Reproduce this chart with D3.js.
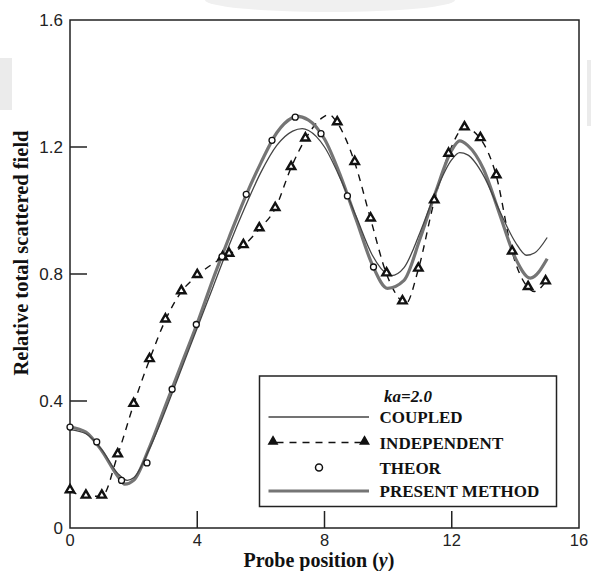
<!DOCTYPE html>
<html>
<head>
<meta charset="utf-8">
<script src="https://cdn.jsdelivr.net/npm/d3@7"></script>
<style>
  body { margin: 0; background: #fff; }
  svg { display: block; }
</style>
</head>
<body>
<div id="chart"></div>
<script>
// Data (ka = 2.0)
const coupledX = [0, 0.5, 1.0, 1.5, 1.8, 2.0, 2.5, 3.0, 3.5, 4.0, 4.5, 5.0, 5.5, 6.0, 6.5, 7.0, 7.3, 7.5, 8.0, 8.5, 9.0, 9.5, 10.0, 10.1, 10.5, 11.0, 11.5, 12.0, 12.25, 12.5, 13.0, 13.5, 14.0, 14.35, 14.6, 15.0];
const coupledY = [0.31, 0.297, 0.247, 0.172, 0.15, 0.158, 0.25, 0.37, 0.50, 0.63, 0.76, 0.89, 1.01, 1.12, 1.205, 1.25, 1.258, 1.252, 1.2, 1.1, 0.98, 0.86, 0.798, 0.795, 0.82, 0.93, 1.06, 1.16, 1.182, 1.175, 1.11, 1.0, 0.9, 0.859, 0.866, 0.915];

const presentX = [0, 0.5, 1.0, 1.5, 1.72, 2.0, 2.5, 3.0, 3.5, 4.0, 4.5, 5.0, 5.5, 6.0, 6.5, 7.0, 7.1, 7.5, 8.0, 8.5, 9.0, 9.5, 9.98, 10.5, 11.0, 11.5, 12.0, 12.25, 12.5, 13.0, 13.5, 14.0, 14.47, 15.0];
const presentY = [0.318, 0.302, 0.243, 0.163, 0.138, 0.15, 0.255, 0.385, 0.515, 0.645, 0.785, 0.915, 1.04, 1.15, 1.245, 1.293, 1.297, 1.285, 1.225, 1.11, 0.97, 0.83, 0.755, 0.78, 0.91, 1.06, 1.19, 1.219, 1.205, 1.13, 0.99, 0.85, 0.787, 0.848];

const independentX = [0, 0.5, 1.0, 1.5, 2.0, 2.5, 3.0, 3.5, 4.0, 4.8, 5.0, 5.45, 5.95, 6.45, 6.95, 7.4, 7.9, 8.15, 8.4, 8.95, 9.45, 9.95, 10.45, 10.55, 10.95, 11.45, 11.9, 12.4, 12.9, 13.4, 13.9, 14.4, 14.6, 14.95];
const independentY = [0.117, 0.10, 0.10, 0.23, 0.389, 0.53, 0.655, 0.744, 0.795, 0.851, 0.862, 0.889, 0.942, 1.006, 1.135, 1.225, 1.29, 1.302, 1.276, 1.151, 0.973, 0.80, 0.712, 0.706, 0.815, 1.03, 1.177, 1.26, 1.226, 1.109, 0.869, 0.757, 0.745, 0.775];
// triangles are only at the computed points, not at the peak/trough helpers
const independentMarkX = [0, 0.5, 1.0, 1.5, 2.0, 2.5, 3.0, 3.5, 4.0, 4.8, 5.0, 5.45, 5.95, 6.45, 6.95, 7.4, 8.4, 8.95, 9.45, 9.95, 10.45, 10.95, 11.45, 11.9, 12.4, 12.9, 13.4, 13.9, 14.4, 14.95];
const independentMarkY = [0.117, 0.10, 0.10, 0.23, 0.389, 0.53, 0.655, 0.744, 0.795, 0.851, 0.862, 0.889, 0.942, 1.006, 1.135, 1.225, 1.276, 1.151, 0.973, 0.80, 0.712, 0.815, 1.03, 1.177, 1.26, 1.226, 1.109, 0.869, 0.757, 0.775];

const theorX = [0, 0.84, 1.62, 2.42, 3.21, 3.97, 4.78, 5.54, 6.35, 7.08, 7.89, 8.72, 9.54];
const theorY = [0.318, 0.271, 0.15, 0.205, 0.437, 0.641, 0.855, 1.051, 1.221, 1.294, 1.242, 1.046, 0.822];

const xTicks = [0, 4, 8, 12, 16];
const yTicks = [0, 0.4, 0.8, 1.2, 1.6];
const legendLabels = ['COUPLED', 'INDEPENDENT', 'THEOR', 'PRESENT METHOD'];

const width = 591, height = 571;
const margin = { top: 20, right: 12, bottom: 43, left: 70 };

const svg = d3.select('#chart').append('svg')
    .attr('width', width)
    .attr('height', height);

// faint watermark smudges from the scan
svg.append('ellipse').attr('cx', 330).attr('cy', 0).attr('rx', 125).attr('ry', 12).attr('fill', '#f0f0f0');
svg.append('rect').attr('x', 0).attr('y', 58).attr('width', 12).attr('height', 52).attr('fill', '#ebebeb');
svg.append('rect').attr('x', 587).attr('y', 60).attr('width', 4).attr('height', 66).attr('fill', '#ebebeb');

const x = d3.scaleLinear().domain([0, 16]).range([margin.left, width - margin.right]);
const y = d3.scaleLinear().domain([0, 1.6]).range([height - margin.bottom, margin.top]);

const serif = '"Liberation Serif", "Times New Roman", serif';
const sans = '"Liberation Sans", Arial, sans-serif';

// frame
svg.append('rect')
    .attr('x', x(0)).attr('y', y(1.6))
    .attr('width', x(16) - x(0)).attr('height', y(0) - y(1.6))
    .attr('fill', 'none').attr('stroke', '#222').attr('stroke-width', 1.5);

// inward ticks
svg.selectAll('.xtick')
    .data(xTicks.filter(d => d > 0 && d < 16))
    .enter().append('line')
    .attr('x1', d => x(d)).attr('x2', d => x(d))
    .attr('y1', y(0)).attr('y2', y(0) - 17)
    .attr('stroke', '#222').attr('stroke-width', 1.5);

svg.selectAll('.ytick')
    .data(yTicks.filter(d => d > 0 && d < 1.6))
    .enter().append('line')
    .attr('x1', x(0)).attr('x2', x(0) + 17)
    .attr('y1', d => y(d)).attr('y2', d => y(d))
    .attr('stroke', '#222').attr('stroke-width', 1.5);

// tick labels
svg.selectAll('.xlab')
    .data(xTicks)
    .enter().append('text')
    .attr('x', d => x(d))
    .attr('y', y(0) + 17.5)
    .attr('text-anchor', 'middle')
    .attr('font-family', sans).attr('font-size', 16.5).attr('fill', '#222')
    .text(d => d);

svg.selectAll('.ylab')
    .data(yTicks)
    .enter().append('text')
    .attr('x', x(0) - 7)
    .attr('y', d => y(d) + 6)
    .attr('text-anchor', 'end')
    .attr('font-family', sans).attr('font-size', 17).attr('fill', '#222')
    .text(d => d === 0 ? '0' : d.toFixed(1));

// axis titles
const xTitle = svg.append('text')
    .attr('x', 319)
    .attr('y', 566.5)
    .attr('text-anchor', 'middle')
    .attr('font-family', serif).attr('font-size', 20).attr('font-weight', 'bold').attr('fill', '#111');
xTitle.append('tspan').text('Probe position (');
xTitle.append('tspan').attr('font-style', 'italic').text('y');
xTitle.append('tspan').text(')');

svg.append('text')
    .attr('transform', 'translate(27.5,253) rotate(-90)')
    .attr('text-anchor', 'middle')
    .attr('font-family', serif).attr('font-size', 20.5).attr('font-weight', 'bold').attr('fill', '#111')
    .text('Relative total scattered field');

// curves
const line = d3.line().x(d => x(d[0])).y(d => y(d[1])).curve(d3.curveMonotoneX);
const zip = (xs, ys) => xs.map((v, i) => [v, ys[i]]);

svg.append('path')
    .datum(zip(independentX, independentY))
    .attr('d', line)
    .attr('fill', 'none').attr('stroke', '#111').attr('stroke-width', 1.4)
    .attr('stroke-dasharray', '7,6');

svg.append('path')
    .datum(zip(presentX, presentY))
    .attr('d', line)
    .attr('fill', 'none').attr('stroke', '#757575').attr('stroke-width', 3.2);

svg.append('path')
    .datum(zip(coupledX, coupledY))
    .attr('d', line)
    .attr('fill', 'none').attr('stroke', '#444').attr('stroke-width', 1.3);

// markers
const tri = d3.symbol().type(d3.symbolTriangle).size(30);

svg.selectAll('.tri')
    .data(zip(independentMarkX, independentMarkY))
    .enter().append('path')
    .attr('d', tri)
    .attr('transform', d => `translate(${x(d[0])},${y(d[1]) - 1})`)
    .attr('fill', '#fff').attr('stroke', '#111').attr('stroke-width', 2.4);

svg.selectAll('.circ')
    .data(zip(theorX, theorY))
    .enter().append('circle')
    .attr('cx', d => x(d[0])).attr('cy', d => y(d[1]))
    .attr('r', 3)
    .attr('fill', '#fff').attr('stroke', '#111').attr('stroke-width', 1.3);

// legend
const lg = svg.append('g');
lg.append('rect')
    .attr('x', 259.5).attr('y', 376)
    .attr('width', 297).attr('height', 130.5)
    .attr('fill', '#fff').attr('stroke', '#222').attr('stroke-width', 1.5);

lg.append('text')
    .attr('x', 384).attr('y', 402)
    .attr('font-family', serif).attr('font-size', 17)
    .attr('font-weight', 'bold').attr('font-style', 'italic').attr('fill', '#111')
    .text('ka=2.0');

const rowY = [417, 442.5, 467.5, 491];
const sx0 = 268.5, sx1 = 369;

lg.selectAll('.ltext')
    .data(legendLabels)
    .enter().append('text')
    .attr('x', 379.5)
    .attr('y', (d, i) => rowY[i] + 6)
    .attr('font-family', serif).attr('font-size', 17).attr('font-weight', 'bold').attr('fill', '#111')
    .text(d => d);

lg.append('line')
    .attr('x1', sx0).attr('x2', sx1).attr('y1', rowY[0]).attr('y2', rowY[0])
    .attr('stroke', '#444').attr('stroke-width', 1.3);

lg.append('line')
    .attr('x1', sx0 + 8).attr('x2', sx1 - 8).attr('y1', rowY[1]).attr('y2', rowY[1])
    .attr('stroke', '#111').attr('stroke-width', 1.4).attr('stroke-dasharray', '7,6');

lg.selectAll('.ltri')
    .data([sx0 + 4.5, sx1 - 4.5])
    .enter().append('path')
    .attr('d', tri)
    .attr('transform', d => `translate(${d},${rowY[1] - 1})`)
    .attr('fill', '#111').attr('stroke', '#111').attr('stroke-width', 1.5);

lg.append('circle')
    .attr('cx', 319).attr('cy', rowY[2]).attr('r', 3.5)
    .attr('fill', '#fff').attr('stroke', '#111').attr('stroke-width', 1.5);

lg.append('line')
    .attr('x1', sx0).attr('x2', sx1).attr('y1', rowY[3]).attr('y2', rowY[3])
    .attr('stroke', '#757575').attr('stroke-width', 3.2);
</script>
</body>
</html>
